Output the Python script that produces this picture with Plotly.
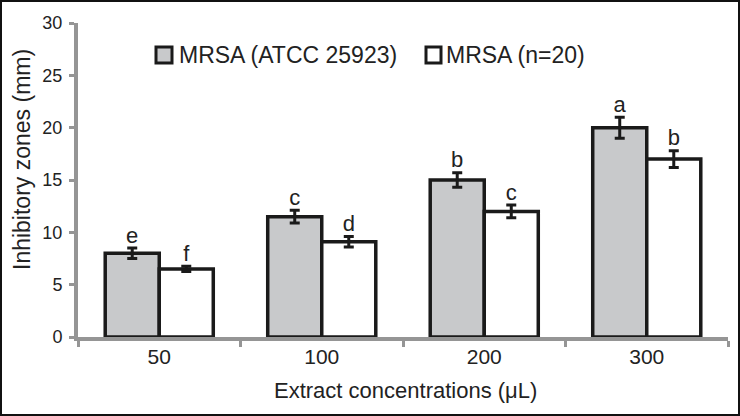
import numpy as np
import plotly.graph_objects as go

categories = ["50", "100", "200", "300"]
atcc_values = [8.0, 11.5, 15.0, 20.0]
atcc_errors = [0.5, 0.6, 0.7, 1.0]
atcc_letters = ["e", "c", "b", "a"]
clinical_values = [6.5, 9.1, 12.0, 17.0]
clinical_errors = [0.25, 0.5, 0.6, 0.8]
clinical_letters = ["f", "d", "c", "b"]
series_names = ["MRSA (ATCC 25923)", "MRSA (n=20)"]
y_ticks = [0, 5, 10, 15, 20, 25, 30]

FONT = "Liberation Sans, Arial, sans-serif"
TXT = "#222222"
GREY_AXIS = "#959595"
GREY_BAR = "#c8c9cb"
EDGE = "#1a1a1a"
BARGAP = 0.335

W, H = 740, 416
L, R, T, B = 78, 12, 23, 79
pw, ph = W - L - R, H - T - B


def px_x(p):
    return (p - L) / pw


def px_y(p):
    return (T + ph - p) / ph


xi = np.arange(len(categories))
half = (1 - BARGAP) / 4

fig = go.Figure()
fig.add_trace(go.Bar(
    x=xi, y=atcc_values, name=series_names[0], showlegend=False,
    marker=dict(color=GREY_BAR, line=dict(color=EDGE, width=3.5)),
    error_y=dict(type="data", array=atcc_errors, color=EDGE, thickness=3, width=5),
))
fig.add_trace(go.Bar(
    x=xi, y=clinical_values, name=series_names[1], showlegend=False,
    marker=dict(color="white", line=dict(color=EDGE, width=3.5)),
    error_y=dict(type="data", array=clinical_errors, color=EDGE, thickness=3, width=5),
))
fig.add_trace(go.Scatter(
    x=xi - half, y=np.array(atcc_values) + np.array(atcc_errors),
    mode="text", text=atcc_letters, textposition="top center",
    textfont=dict(family=FONT, size=22, color=TXT), showlegend=False, hoverinfo="skip",
))
fig.add_trace(go.Scatter(
    x=xi + half, y=np.array(clinical_values) + np.array(clinical_errors),
    mode="text", text=clinical_letters, textposition="top center",
    textfont=dict(family=FONT, size=22, color=TXT), showlegend=False, hoverinfo="skip",
))

shapes = [
    # outer frame
    dict(type="rect", xref="paper", yref="paper",
         x0=px_x(1), x1=px_x(W - 1), y0=px_y(H - 1), y1=px_y(1),
         line=dict(color="#111", width=2), fillcolor="rgba(0,0,0,0)", layer="above"),
    # legend swatches
    dict(type="rect", xref="paper", yref="paper",
         x0=px_x(156), x1=px_x(172), y0=px_y(63), y1=px_y(47),
         line=dict(color=EDGE, width=3), fillcolor=GREY_BAR),
    dict(type="rect", xref="paper", yref="paper",
         x0=px_x(426), x1=px_x(441), y0=px_y(63), y1=px_y(47),
         line=dict(color=EDGE, width=3), fillcolor="white"),
]
annotations = [
    dict(text=series_names[0], xref="paper", yref="paper", x=px_x(177), y=px_y(55),
         xanchor="left", yanchor="middle", showarrow=False, font=dict(size=23, color=TXT)),
    dict(text=series_names[1], xref="paper", yref="paper", x=px_x(444), y=px_y(55),
         xanchor="left", yanchor="middle", showarrow=False, font=dict(size=23, color=TXT)),
    dict(text="Inhibitory zones (mm)", xref="paper", yref="paper", x=px_x(22), y=px_y(160),
         xanchor="center", yanchor="middle", textangle=-90, showarrow=False,
         font=dict(size=23, color=TXT)),
    dict(text="Extract concentrations (μL)", xref="paper", yref="paper", x=px_x(405), y=px_y(390),
         xanchor="center", yanchor="middle", showarrow=False, font=dict(size=22, color=TXT)),
]

fig.update_layout(
    width=W, height=H,
    margin=dict(l=L, r=R, t=T, b=B, autoexpand=False),
    paper_bgcolor="white", plot_bgcolor="white",
    barmode="group", bargap=BARGAP, bargroupgap=0,
    font=dict(family=FONT, size=18, color=TXT),
    showlegend=False,
    xaxis=dict(
        range=[-0.5, len(categories) - 0.5],
        tickvals=xi, ticktext=categories, ticks="", showgrid=False,
        showline=True, linecolor=GREY_AXIS, linewidth=4, zeroline=False,
        minor=dict(tickvals=list(np.arange(-0.5, len(categories), 1.0)),
                   ticks="outside", ticklen=6, tickwidth=3, tickcolor=GREY_AXIS, showgrid=False),
        tickfont=dict(size=21, color=TXT), ticklabelstandoff=-2,
    ),
    yaxis=dict(
        range=[0, 30], tickvals=y_ticks, ticks="outside", ticklen=5, tickwidth=3,
        tickcolor=GREY_AXIS, showline=True, linecolor=GREY_AXIS, linewidth=4,
        showgrid=False, zeroline=False,
        tickfont=dict(size=18, color=TXT), ticklabelstandoff=3,
    ),
    shapes=shapes,
    annotations=annotations,
)

fig.write_html(
    "out.html",
    config={"displayModeBar": False},
    post_script="document.body.style.margin='0';document.body.style.overflow='hidden';",
)
